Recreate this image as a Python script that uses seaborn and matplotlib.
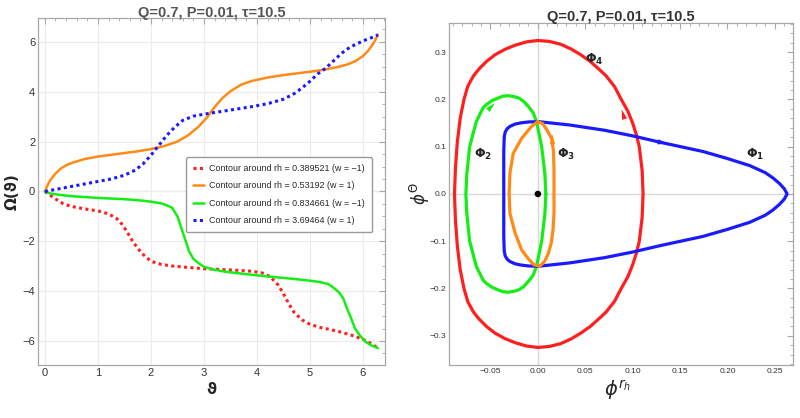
import matplotlib
matplotlib.use("Agg")
import matplotlib.pyplot as plt
from matplotlib.markers import MarkerStyle
from matplotlib.transforms import Affine2D
from matplotlib.ticker import MultipleLocator
import numpy as np
import pandas as pd
import seaborn as sns

# ---- left panel: Omega(theta) for the four contours ----
red_theta = [0, 0.1, 0.2, 0.35, 0.5, 0.75, 1.0, 1.2, 1.35, 1.45, 1.55, 1.65, 1.75, 1.85, 2.0, 2.2, 2.4, 2.7,
             3.0, 3.3, 3.6, 3.9, 4.1, 4.25, 4.4, 4.5, 4.6, 4.7, 4.85, 5.0, 5.2, 5.4, 5.6, 5.8, 6.0, 6.15, 6.283]
red_omega = [0, -0.15, -0.3, -0.5, -0.6, -0.7, -0.78, -0.9, -1.08, -1.3, -1.62, -1.98, -2.28, -2.52, -2.8, -2.93,
             -2.99, -3.05, -3.1, -3.13, -3.16, -3.2, -3.27, -3.42, -3.75, -4.1, -4.5, -4.85, -5.15, -5.33, -5.46,
             -5.55, -5.65, -5.78, -5.93, -6.1, -6.283]

orange_theta = [0, 0.05, 0.1, 0.2, 0.3, 0.4, 0.5, 0.75, 1.0, 1.25, 1.5, 1.75, 2.0, 2.25, 2.5, 2.7, 2.9, 3.05,
                3.2, 3.35, 3.5, 3.7, 3.9, 4.2, 4.5, 4.8, 5.1, 5.3, 5.5, 5.7, 5.85, 6.0, 6.1, 6.2, 6.283]
orange_omega = [0, 0.25, 0.45, 0.72, 0.92, 1.05, 1.14, 1.3, 1.4, 1.47, 1.54, 1.61, 1.7, 1.82, 2.0, 2.25, 2.6,
                2.95, 3.38, 3.75, 4.02, 4.28, 4.43, 4.57, 4.67, 4.75, 4.83, 4.9, 4.98, 5.09, 5.22, 5.43, 5.65,
                5.95, 6.283]

green_theta = [0, 0.1, 0.25, 0.5, 1.0, 1.5, 1.8, 2.0, 2.2, 2.3, 2.4, 2.5, 2.58, 2.65, 2.72, 2.8, 2.9, 3.0,
               3.15, 3.4, 3.8, 4.2, 4.6, 5.0, 5.2, 5.35, 5.45, 5.55, 5.63, 5.7, 5.77, 5.85, 5.95, 6.05, 6.15, 6.283]
green_omega = [0, -0.08, -0.13, -0.19, -0.26, -0.31, -0.36, -0.41, -0.48, -0.56, -0.65, -1.0, -1.5, -1.95,
               -2.4, -2.7, -2.88, -3.02, -3.12, -3.22, -3.32, -3.41, -3.49, -3.58, -3.64, -3.72, -3.87, -4.05,
               -4.3, -4.7, -5.05, -5.5, -5.8, -6.03, -6.17, -6.283]

blue_theta = [0, 0.25, 0.5, 0.75, 1.0, 1.25, 1.5, 1.7, 1.85, 2.0, 2.15, 2.3, 2.45, 2.6, 2.8, 3.0, 3.3, 3.6,
              3.9, 4.2, 4.5, 4.7, 4.85, 5.0, 5.15, 5.3, 5.45, 5.6, 5.75, 5.9, 6.05, 6.2, 6.283]
blue_omega = [0, 0.1, 0.2, 0.3, 0.4, 0.5, 0.65, 0.85, 1.1, 1.45, 1.85, 2.25, 2.58, 2.85, 3.02, 3.1, 3.2, 3.3,
              3.4, 3.52, 3.7, 3.92, 4.15, 4.42, 4.72, 4.95, 5.25, 5.55, 5.78, 5.94, 6.08, 6.2, 6.283]

labels = ["Contour around rh = 0.389521 (w = \u22121)",
          "Contour around rh = 0.53192 (w = 1)",
          "Contour around rh = 0.834661 (w = \u22121)",
          "Contour around rh = 3.69464 (w = 1)"]

# ---- right panel: the closed curves Phi_1 .. Phi_4 ----
phi1_x = [0.001, 0.0336, 0.07, 0.1, 0.13, 0.174, 0.2, 0.2236, 0.24, 0.248, 0.255, 0.26, 0.263,
          0.26, 0.255, 0.248, 0.24, 0.2236, 0.2, 0.174, 0.13, 0.1, 0.07, 0.0336, 0.001,
          -0.0095, -0.018, -0.024, -0.0295, -0.0325, -0.0345, -0.0355, -0.036, -0.036, -0.036,
          -0.0355, -0.0345, -0.0325, -0.0295, -0.024, -0.018, -0.0095, 0.001]
phi1_y = [0.153, 0.146, 0.135, 0.123, 0.109, 0.09, 0.075, 0.06, 0.045, 0.034, 0.022, 0.011, 0,
          -0.011, -0.022, -0.034, -0.045, -0.06, -0.075, -0.09, -0.109, -0.123, -0.135, -0.146, -0.153,
          -0.1525, -0.1505, -0.148, -0.143, -0.138, -0.131, -0.121, -0.09, 0, 0.09,
          0.121, 0.131, 0.138, 0.143, 0.148, 0.1505, 0.1525, 0.153]

phi2_x = [0.0084, 0.0074, 0.004, -0.0014, -0.005, -0.01, -0.015, -0.02, -0.025, -0.031, -0.037, -0.042,
          -0.048, -0.054, -0.058, -0.065, -0.072, -0.075, -0.076, -0.075, -0.072, -0.065, -0.058, -0.054,
          -0.048, -0.042, -0.037, -0.031, -0.025, -0.02, -0.015, -0.01, -0.005, -0.0014, 0.004, 0.0074, 0.0084]
phi2_y = [0, 0.042, 0.1, 0.153, 0.172, 0.185, 0.196, 0.203, 0.206, 0.208, 0.207, 0.203,
          0.198, 0.19, 0.182, 0.153, 0.1, 0.042, 0, -0.042, -0.1, -0.153, -0.182, -0.19,
          -0.198, -0.203, -0.207, -0.208, -0.206, -0.203, -0.196, -0.185, -0.172, -0.153, -0.1, -0.042, 0]

phi3_x = [-0.0002, 0.005, 0.0095, 0.0144, 0.0165, 0.017, 0.017, 0.017, 0.016, 0.014, 0.011, 0.007, 0.002,
          -0.004, -0.009, -0.017, -0.024, -0.0295, -0.0303, -0.0295, -0.026, -0.017, -0.0067, -0.0002]
phi3_y = [0.153, 0.149, 0.1356, 0.118, 0.09, 0.05, 0, -0.04, -0.076, -0.105, -0.126, -0.143, -0.153,
          -0.15, -0.14, -0.119, -0.083, -0.041, 0, 0.044, 0.086, 0.118, 0.143, 0.153]

phi4_x = [0, 0.012, 0.024, 0.035, 0.045, 0.055, 0.064, 0.072, 0.081, 0.088, 0.095, 0.1, 0.104, 0.107,
          0.11, 0.111, 0.11, 0.107, 0.104, 0.1, 0.095, 0.088, 0.081, 0.072, 0.064, 0.055, 0.045, 0.035,
          0.024, 0.012, 0, -0.012, -0.024, -0.035, -0.045, -0.054, -0.062, -0.068, -0.074, -0.078, -0.082,
          -0.085, -0.087, -0.088, -0.087, -0.085, -0.082, -0.078, -0.074, -0.068, -0.062, -0.054, -0.045,
          -0.035, -0.024, -0.012, 0]
phi4_y = [0.325, 0.323, 0.317, 0.307, 0.295, 0.281, 0.265, 0.25, 0.227, 0.2, 0.175, 0.15, 0.125, 0.1,
          0.05, 0, -0.05, -0.1, -0.125, -0.15, -0.175, -0.2, -0.227, -0.25, -0.265, -0.281, -0.295, -0.307,
          -0.317, -0.323, -0.325, -0.322, -0.315, -0.306, -0.295, -0.281, -0.265, -0.25, -0.228, -0.2, -0.16,
          -0.11, -0.055, 0, 0.055, 0.11, 0.16, 0.2, 0.228, 0.25, 0.265, 0.281, 0.295,
          0.306, 0.315, 0.322, 0.325]

# arrow heads: position on the curve and screen angle (deg, 0 = pointing up, ccw positive)
arrow_x = [-0.0505, 0.0148, 0.0895, 0.13]
arrow_y = [0.185, 0.115, 0.168, 0.109]
arrow_angle = [-45, 0, 17, -101]

RED, ORANGE, GREEN, BLUE = "#ff1f1f", "#ff8a17", "#14ee14", "#1a1aff"
arrow_color = [GREEN, ORANGE, RED, BLUE]
title = "Q=0.7, P=0.01, \u03c4=10.5"

sns.set_theme(style="white")
plt.rcParams["font.family"] = ["Liberation Sans", "DejaVu Sans"]
plt.rcParams["mathtext.fontset"] = "dejavusans"

fig = plt.figure(figsize=(8, 4.18), dpi=100)
ax1 = fig.add_axes([0.0475, 0.127, 0.434, 0.83])
ax2 = fig.add_axes([0.561, 0.127, 0.43, 0.818])

dotted = (0, (1, 1.1))
sns.lineplot(x=red_theta, y=red_omega, ax=ax1, color=RED, lw=2.2, linestyle=dotted, sort=False,
             estimator=None, label=labels[0])
sns.lineplot(x=orange_theta, y=orange_omega, ax=ax1, color=ORANGE, lw=1.8, sort=False,
             estimator=None, label=labels[1])
sns.lineplot(x=green_theta, y=green_omega, ax=ax1, color=GREEN, lw=1.8, sort=False,
             estimator=None, label=labels[2])
sns.lineplot(x=blue_theta, y=blue_omega, ax=ax1, color=BLUE, lw=2.2, linestyle=dotted, sort=False,
             estimator=None, label=labels[3])

ax1.set_xlim(-0.13, 6.42)
ax1.set_ylim(-6.96, 6.96)
ax1.xaxis.set_major_locator(MultipleLocator(1))
ax1.xaxis.set_minor_locator(MultipleLocator(0.2))
ax1.yaxis.set_major_locator(MultipleLocator(2))
ax1.yaxis.set_minor_locator(MultipleLocator(0.5))
ax1.grid(True, which="major", color="#ececec", lw=0.8)
ax1.axhline(0, color="#dddddd", lw=0.9, zorder=0)
ax1.legend(loc="upper left", bbox_to_anchor=(0.427, 0.6), borderaxespad=0, fontsize=6.4,
           handlelength=1.2, labelspacing=0.95, frameon=True, fancybox=True, edgecolor="#9a9a9a",
           framealpha=1, borderpad=0.8, handletextpad=0.6)
ax1.set_title(title, fontsize=10.5, fontweight="bold", color="#555555", pad=0.5)
ax1.set_xlabel("\u03d1", fontsize=11, fontweight="bold", family=["DejaVu Sans"])
ax1.set_ylabel("\u03a9(\u03d1)", fontsize=11, fontweight="bold", family=["DejaVu Sans"])
ax1.xaxis.set_label_coords(0.5, -0.05)
ax1.yaxis.set_label_coords(-0.052, 0.5)

for data_x, data_y, c in [(phi4_x, phi4_y, RED), (phi2_x, phi2_y, GREEN),
                          (phi1_x, phi1_y, BLUE), (phi3_x, phi3_y, ORANGE)]:
    sns.lineplot(x=data_x, y=data_y, ax=ax2, color=c, lw=2.3, sort=False, estimator=None)

ax2.axhline(0, color="#d8d8d8", lw=1.0, zorder=0)
ax2.axvline(0, color="#d8d8d8", lw=1.0, zorder=0)
sns.scatterplot(x=[0], y=[0], ax=ax2, color="black", s=22, zorder=6, edgecolor="none")

# slim arrowhead marker, rotated for each arrow
head = np.array([[0, 1.0], [-0.42, -0.6], [0.42, -0.6], [0, 1.0]])
for xa, ya, ang, c in zip(arrow_x, arrow_y, arrow_angle, arrow_color):
    m = MarkerStyle(head, transform=Affine2D().rotate_deg(ang))
    ax2.plot([xa], [ya], marker=m, markersize=9, color=c, markeredgewidth=0, zorder=7)

for txt, (px, py) in [(r"$\mathbf{\Phi_1}$", (0.229, 0.084)), (r"$\mathbf{\Phi_2}$", (-0.058, 0.083)),
                      (r"$\mathbf{\Phi_3}$", (0.030, 0.083)), (r"$\mathbf{\Phi_4}$", (0.060, 0.285))]:
    ax2.text(px, py, txt, fontsize=9, ha="center", va="center")

ax2.set_xlim(-0.094, 0.269)
ax2.set_ylim(-0.362, 0.362)
ax2.xaxis.set_minor_locator(MultipleLocator(0.01))
ax2.yaxis.set_minor_locator(MultipleLocator(0.02))
ax2.set_xticks([-0.05, 0, 0.05, 0.1, 0.15, 0.2, 0.25])
ax2.set_xticklabels(["\u22120.05", "0.00", "0.05", "0.10", "0.15", "0.20", "0.25"])
ax2.set_yticks([-0.3, -0.2, -0.1, 0, 0.1, 0.2, 0.3])
ax2.set_yticklabels(["\u22120.3", "\u22120.2", "\u22120.1", "0.0", "0.1", "0.2", "0.3"])
ax2.set_title(title, fontsize=10.5, fontweight="bold", color="#333333", pad=1.5)
ax2.set_xlabel(r"$\phi^{r_h}$", fontsize=14)
ax2.set_ylabel(r"$\phi^{\Theta}$", fontsize=12)
ax2.xaxis.set_label_coords(0.49, -0.04)
ax2.yaxis.set_label_coords(-0.05, 0.5)

for ax, fs in [(ax1, 8), (ax2, 6)]:
    for s in ax.spines.values():
        s.set_visible(True)
        s.set_color("#a8a8a8")
        s.set_linewidth(0.9)
    ax.tick_params(which="both", direction="in", top=True, right=True, color="#a8a8a8",
                   labelsize=fs, labelcolor="#333333", pad=2)
    ax.tick_params(which="major", length=4, width=0.8)
    ax.tick_params(which="minor", length=2, width=0.6)

fig.savefig("out.png", dpi=100)
